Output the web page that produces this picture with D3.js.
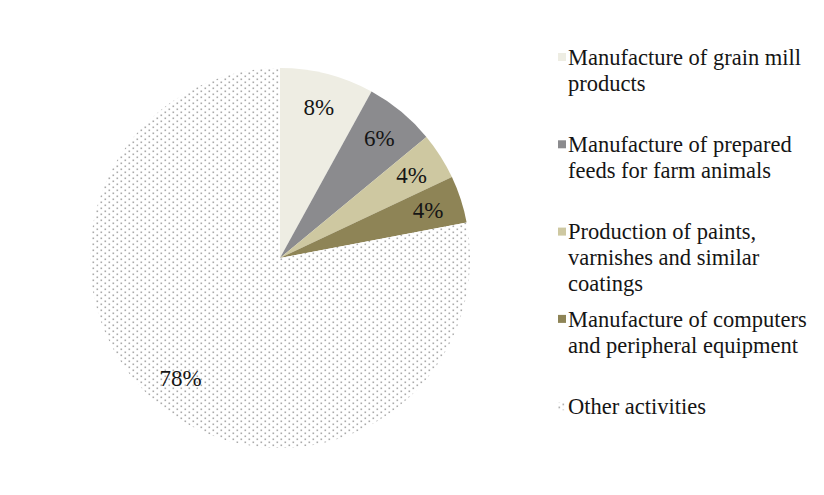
<!DOCTYPE html>
<html>
<head>
<meta charset="utf-8">
<script src="https://cdn.jsdelivr.net/npm/d3@7"></script>
<style>
  body { margin: 0; background: #fff; }
  text { font-family: "Liberation Serif", "Times New Roman", serif; fill: #151515; }
</style>
</head>
<body>
<div id="chart"></div>
<script>
// data
const categories = [
    'Manufacture of grain mill products',
    'Manufacture of prepared feeds for farm animals',
    'Production of paints, varnishes and similar coatings',
    'Manufacture of computers and peripheral equipment',
    'Other activities'
];
const shares = [8, 6, 4, 4, 78];
const legendLines = [
    ['Manufacture of grain mill', 'products'],
    ['Manufacture of prepared', 'feeds for farm animals'],
    ['Production of paints,', 'varnishes and similar', 'coatings'],
    ['Manufacture of computers', 'and peripheral equipment'],
    ['Other activities']
];
const colors = ['#eeede3', '#8b8b8e', '#cec8a1', '#8e8456', 'url(#dots)'];

const width = 824, height = 495;
const cx = 280, cy = 258, radius = 190;

let svg = d3.select('#chart').append('svg')
    .attr('width', width)
    .attr('height', height);

// dotted fill for "Other activities"
let pattern = svg.append('defs').append('pattern')
    .attr('id', 'dots')
    .attr('patternUnits', 'userSpaceOnUse')
    .attr('width', 8)
    .attr('height', 6);
pattern.append('rect').attr('width', 8).attr('height', 6).attr('fill', '#fff');
pattern.append('rect').attr('x', 0.5).attr('y', 0.5).attr('width', 1.6).attr('height', 1.6).attr('fill', '#aaa');
pattern.append('rect').attr('x', 4.5).attr('y', 3.5).attr('width', 1.6).attr('height', 1.6).attr('fill', '#aaa');

let pie = d3.pie().sort(null).value(d => d);
let arcs = pie(shares);
let arc = d3.arc().innerRadius(0).outerRadius(radius);
let labelArc = d3.arc().innerRadius(radius * 0.82).outerRadius(radius * 0.82);

let g = svg.append('g').attr('transform', `translate(${cx},${cy})`);

g.selectAll('.slice')
    .data(arcs)
    .enter().append('path')
    .attr('class', 'slice')
    .attr('d', arc)
    .attr('fill', (d, i) => colors[i]);

g.selectAll('.pct')
    .data(arcs)
    .enter().append('text')
    .attr('class', 'pct')
    .attr('transform', d => `translate(${labelArc.centroid(d)})`)
    .attr('text-anchor', 'middle')
    .attr('dy', '0.35em')
    .style('font-size', '23px')
    .text(d => d.data + '%');

// legend
let legend = svg.append('g').attr('transform', 'translate(558,57)');
let itemStep = 87.3, lineH = 26;

let items = legend.selectAll('.item')
    .data(categories)
    .enter().append('g')
    .attr('class', 'item')
    .attr('transform', (d, i) => `translate(0,${i * itemStep})`);

items.append('rect')
    .attr('x', 0)
    .attr('y', -4)
    .attr('width', 8)
    .attr('height', 8)
    .attr('fill', (d, i) => colors[i]);

items.append('text')
    .style('font-size', '22.5px')
    .selectAll('tspan')
    .data((d, i) => legendLines[i])
    .enter().append('tspan')
    .attr('x', 10)
    .attr('y', (d, j) => j * lineH)
    .attr('dy', '0.35em')
    .text(d => d);
</script>
</body>
</html>
